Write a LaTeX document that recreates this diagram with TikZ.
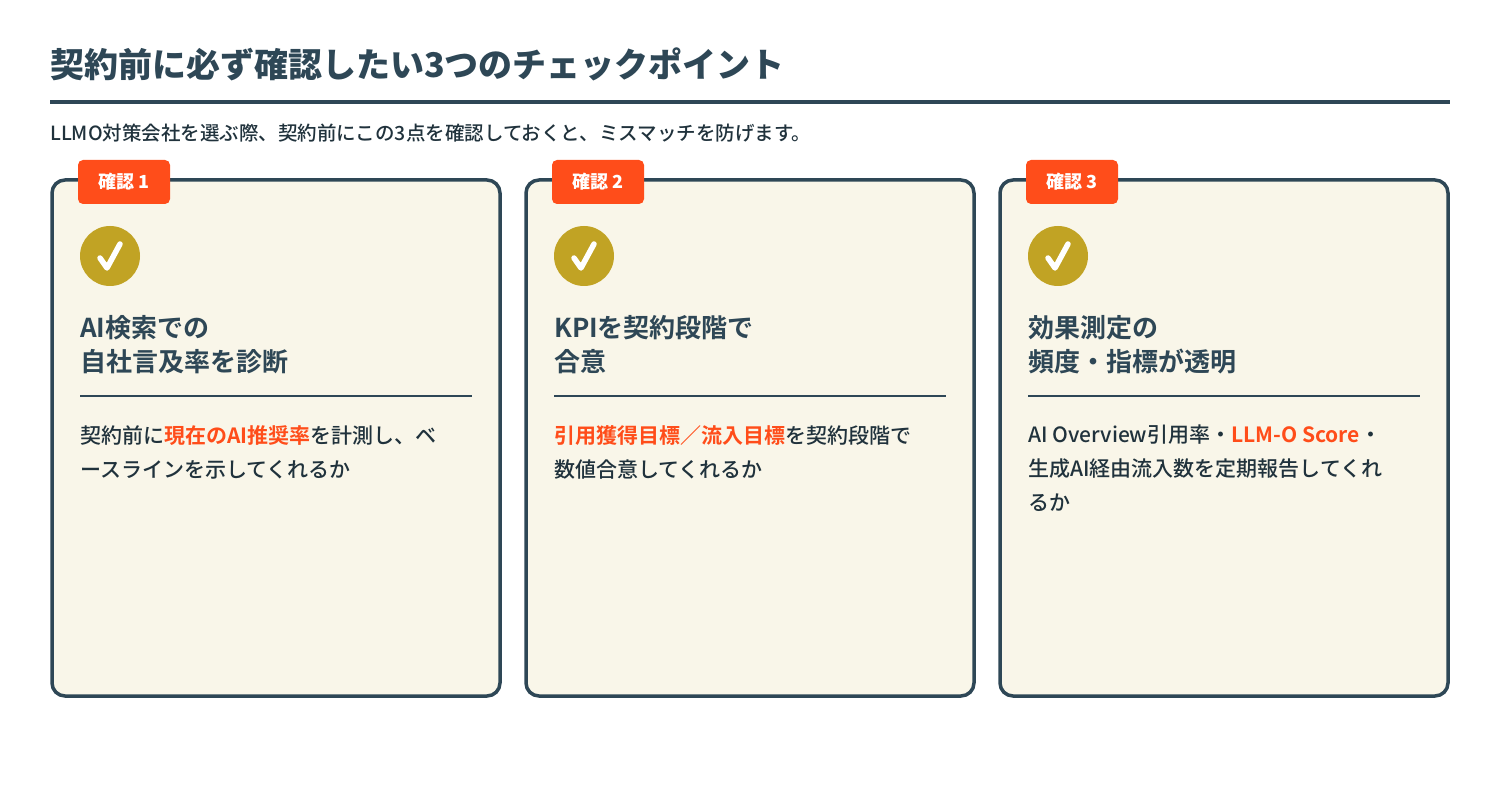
\documentclass[tikz,border=0pt]{standalone}
\usepackage{fontspec}
\setmainfont{Noto Sans CJK JP Medium}
\newfontfamily\jpbold{Noto Sans CJK JP Bold}
\newfontfamily\jpblack{Noto Sans CJK JP Black}
\usetikzlibrary{positioning}
\definecolor{ink}{HTML}{2E4756}
\definecolor{accent}{HTML}{FF4D1A}
\definecolor{gold}{HTML}{C1A324}
\definecolor{cream}{HTML}{F9F6E9}
\newcommand{\hl}[1]{{\jpbold\color{accent}#1}}
\tikzset{
  card/.style={draw=ink, line width=3.5pt, fill=cream, rounded corners=13pt},
  tag/.style={fill=accent, rounded corners=5pt, text=white, font=\jpblack\fontsize{18}{20}\selectfont,
    minimum width=92pt, minimum height=44pt, inner sep=0pt},
  checkdot/.style={circle, fill=gold, minimum size=60pt, inner sep=0pt},
  heading/.style={anchor=north west, align=left, text=ink, font=\jpbold\fontsize{26}{34}\selectfont, inner sep=0pt},
  bodytext/.style={anchor=north west, align=left, text=ink!70!black, font=\fontsize{21}{34}\selectfont, inner sep=0pt},
}
\begin{document}
\begin{tikzpicture}[x=1pt,y=-1pt]
\useasboundingbox (0,0) rectangle (1500,810);
\node[anchor=base west, inner sep=0pt, text=ink, font=\jpblack\fontsize{34}{36}\selectfont] (title) at (50,78) {契約前に必ず確認したい3つのチェックポイント};
\draw[ink, line width=4pt] (50,102) -- (1450,102);
\node[anchor=base west, inner sep=0pt, text=ink!70!black, font=\fontsize{19.5}{20}\selectfont] (lead) at (50,141) {LLMO対策会社を選ぶ際、契約前にこの3点を確認しておくと、ミスマッチを防げます。};
\foreach \i/\x/\head/\body in {
  1/52/{AI検索での\\自社言及率を診断}/{契約前に\hl{現在のAI推奨率}を計測し、ベ\\ースラインを示してくれるか},
  2/526/{KPIを契約段階で\\合意}/{\hl{引用獲得目標／流入目標}を契約段階で\\数値合意してくれるか},
  3/1000/{効果測定の\\頻度・指標が透明}/{AI Overview引用率・\hl{LLM-O Score}・\\生成AI経由流入数を定期報告してくれ\\るか}} {
  \draw[card] (\x,180) rectangle (\x+448,696);
  \node[tag] (tag\i) at (\x+72,182) {確認 \i};
  \node[checkdot] (dot\i) at (\x+58,256) {};
  \draw[white, line width=5.5pt, line cap=round, line join=round]
    ([shift={(-10,2)}]dot\i.center) -- ([shift={(-3,12)}]dot\i.center) -- ([shift={(10,-12)}]dot\i.center);
  \node[heading] (head\i) at (\x+28,315) {\head};
  \draw[ink, line width=2pt] (\x+28,396) -- (\x+420,396);
  \node[bodytext] (body\i) at (\x+28,425) {\body};
}
\end{tikzpicture}
\end{document}
